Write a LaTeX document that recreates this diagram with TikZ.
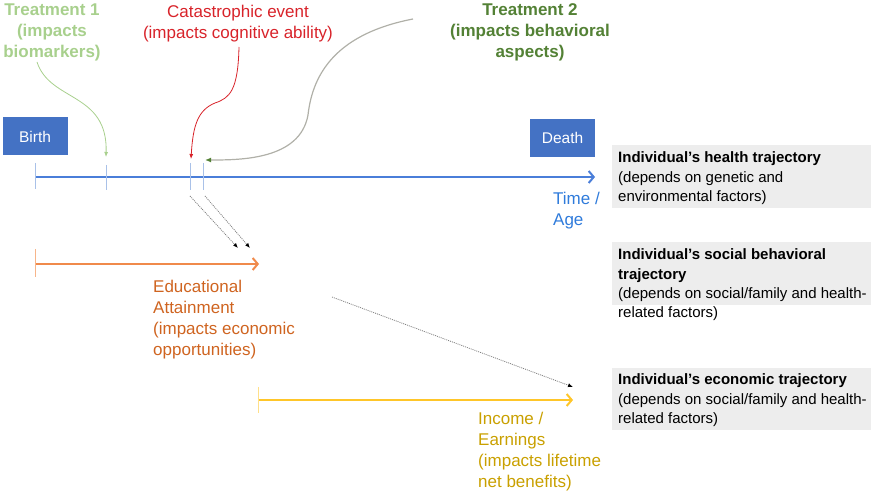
\documentclass[tikz,border=0pt]{standalone}
\usepackage{fontspec}
\setmainfont{Liberation Sans}
\usetikzlibrary{arrows.meta}
\definecolor{bluebox}{HTML}{4472C4}
\definecolor{blueline}{HTML}{4A7ED9}
\definecolor{bluetick}{HTML}{A9C1E8}
\definecolor{timetext}{HTML}{2F7BDB}
\definecolor{orangeline}{HTML}{F08A4B}
\definecolor{orangetick}{HTML}{F7B58A}
\definecolor{edutext}{HTML}{CF6420}
\definecolor{yellowline}{HTML}{FFC629}
\definecolor{yellowtick}{HTML}{FFE08A}
\definecolor{incometext}{HTML}{C9A000}
\definecolor{tonegreen}{HTML}{A8D08D}
\definecolor{catred}{HTML}{D8232A}
\definecolor{ttwogreen}{HTML}{538135}
\definecolor{curvegray}{HTML}{B0B0A8}
\definecolor{boxgray}{HTML}{EDEDED}
\begin{document}
\begin{tikzpicture}[x=1pt,y=-1pt,
  toptext/.style={inner sep=0pt, align=center, anchor=north, font=\fontsize{17}{21}\selectfont},
  lbl/.style={inner sep=0pt, align=left, anchor=north west, font=\fontsize{17}{21}\selectfont},
  evbox/.style={fill=bluebox, text=white, inner sep=0pt, font=\fontsize{15.5}{18}\selectfont, minimum width=65pt, minimum height=38pt},
  graybox/.style={fill=boxgray, inner sep=0pt, anchor=north west, minimum width=259pt},
  boxtext/.style={inner sep=0pt, align=left, anchor=north west, font=\fontsize{15}{19.2}\selectfont},
  tickline/.style={line width=1pt},
  trajline/.style={line width=2pt},
  barb/.style={-{Straight Barb[length=5pt,width=12pt]}},
  smalltip/.style={-{Latex[length=5pt,width=4pt]}},
  dotarrow/.style={gray, line width=0.8pt, dash pattern=on 1pt off 1pt, -{Latex[length=5pt,width=4pt,color=black]}}
]
\useasboundingbox (0,0) rectangle (871,494);

% right-hand boxes
\node[graybox, minimum height=63pt] (hbox) at (612,145) {};
\node[graybox, minimum height=63pt] (sbox) at (612,242) {};
\node[graybox, minimum height=62pt] (ebox) at (612,368) {};
\node[boxtext] (htext) at (618,151.8) {\textbf{Individual’s health trajectory}\\(depends on genetic and\\environmental factors)};
\node[boxtext] (stext) at (618,248.8) {\textbf{Individual’s social behavioral}\\\textbf{trajectory}\\(depends on social/family and health-\\related factors)};
\node[boxtext] (etext) at (618,373.8) {\textbf{Individual’s economic trajectory}\\(depends on social/family and health-\\related factors)};

% top labels
\node[toptext, text=tonegreen, font=\fontsize{17}{21}\selectfont\bfseries] (tone) at (52,3.6) {Treatment 1\\(impacts\\biomarkers)};
\node[toptext, text=catred] (cat) at (238,4.6) {Catastrophic event\\(impacts cognitive ability)};
\node[toptext, text=ttwogreen, font=\fontsize{17}{21}\selectfont\bfseries] (ttwo) at (530,3.6) {Treatment 2\\(impacts behavioral\\aspects)};

% event boxes
\node[evbox] (birth) at (35,136.5) {Birth};
\node[evbox] (death) at (562.5,138) {Death};

% health timeline
\coordinate (hs) at (35,177);
\coordinate (he) at (595,177);
\draw[blueline, trajline, barb] (hs) -- (he);
\draw[bluetick, tickline] (35,163) -- (35,189);
\draw[bluetick, tickline] (106,165) -- (106,190);
\draw[bluetick, tickline] (190,163) -- (190,190);
\draw[bluetick, tickline] (203,163) -- (203,190);
\node[lbl, text=timetext] (time) at (553,191.6) {Time /\\Age};

% curved arrows from the top labels
\coordinate (c1s) at (37,62);
\coordinate (c1e) at (106,157);
\draw[tonegreen, line width=0.8pt, smalltip] (c1s) .. controls (50,102) and (108,92) .. (c1e);
\coordinate (c2s) at (239,47);
\coordinate (c2m) at (215,103);
\coordinate (c2e) at (191,159);
\draw[catred, line width=0.8pt, smalltip] (c2s) .. controls (238,90) and (230,98) .. (c2m) .. controls (198,110) and (193,125) .. (c2e);
\coordinate (c3s) at (413,19);
\coordinate (c3m) at (308,115);
\coordinate (c3e) at (205,160);
\draw[curvegray, line width=1.2pt, -{Latex[length=6pt,width=5pt,color=ttwogreen]}] (c3s) .. controls (330,35) and (312,80) .. (c3m) .. controls (300,160) and (240,160) .. (c3e);

% dotted influence arrows
\coordinate (d1s) at (190,196);
\coordinate (d1e) at (238,248);
\coordinate (d2s) at (205,196);
\coordinate (d2e) at (250,248);
\draw[dotarrow] (d1s) -- (d1e);
\draw[dotarrow] (d2s) -- (d2e);
\coordinate (d3s) at (332,297);
\coordinate (d3e) at (573,387);
\draw[dotarrow] (d3s) -- (d3e);

% social timeline
\coordinate (os) at (35,264);
\coordinate (oe) at (259,264);
\draw[orangeline, trajline, barb] (os) -- (oe);
\draw[orangetick, tickline] (35,249) -- (35,277);
\node[lbl, text=edutext] (edu) at (153,279.6) {Educational\\Attainment\\(impacts economic\\opportunities)};

% economic timeline
\coordinate (ys) at (258,400);
\coordinate (ye) at (573,400);
\draw[yellowline, trajline, barb] (ys) -- (ye);
\draw[yellowtick, tickline] (258,387) -- (258,413);
\node[lbl, text=incometext] (inc) at (478,411.6) {Income /\\Earnings\\(impacts lifetime\\net benefits)};
\end{tikzpicture}
\end{document}
